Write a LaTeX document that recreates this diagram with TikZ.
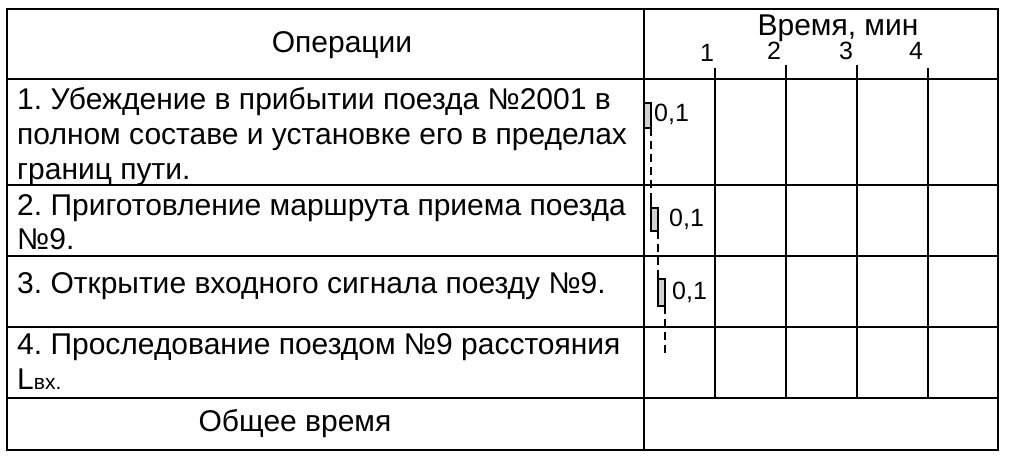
\documentclass[tikz,border=0pt]{standalone}
\usepackage{fontspec}
\setmainfont{Liberation Sans}
\frenchspacing
\begin{document}
\begin{tikzpicture}[x=1pt,y=-1pt,
  grid/.style={line width=1.3pt},
  tick/.style={line width=1.3pt},
  txt/.style={anchor=base west,inner sep=0pt,font=\fontsize{30}{34}\selectfont},
  ctxt/.style={anchor=base,inner sep=0pt,font=\fontsize{30}{34}\selectfont},
  num/.style={anchor=base,inner sep=0pt,font=\fontsize{25}{28}\selectfont},
  lab/.style={anchor=base west,inner sep=0pt,font=\fontsize{25}{28}\selectfont},
  bar/.style={draw=black,fill=black!18,line width=1.2pt},
  dashline/.style={line width=2.2pt,dash pattern=on 8pt off 5pt}
]
\useasboundingbox (0,0) rectangle (1024,456);
% table
\draw[grid] (7,9) rectangle (998,450);
\draw[grid] (644,9) -- (644,450);
\foreach \y in {79,185,256,327,398} \draw[grid] (7,\y) -- (998,\y);
% minute lines
\draw[tick] (715,68) -- (715,398);
\draw[tick] (786,65) -- (786,398);
\draw[tick] (857,65) -- (857,398);
\draw[tick] (928,68) -- (928,398);
% header texts
\node[ctxt] (ops) at (342,52) {Операции};
\node[ctxt] (time) at (838,35) {Время, мин};
\node[num] (m1) at (707,61) {1};
\node[num] (m2) at (774,59) {2};
\node[num] (m3) at (846,59) {3};
\node[num] (m4) at (916,59) {4};
% row texts
\node[txt] (r1a) at (17,109) {1. Убеждение в прибытии поезда №2001 в};
\node[txt] (r1b) at (17,144) {полном составе и установке его в пределах};
\node[txt] (r1c) at (17,179) {границ пути.};
\node[txt] (r2a) at (17,215) {2. Приготовление маршрута приема поезда};
\node[txt] (r2b) at (17,249) {№9.};
\node[txt] (r3a) at (17,293) {3. Открытие входного сигнала поезду №9.};
\node[txt] (r4a) at (17,354) {4. Проследование поездом №9 расстояния};
\node[txt] (r4b) at (17,389) {L{\fontsize{21}{24}\selectfont вх.}};
\node[ctxt] (tot) at (295,431) {Общее время};
% bars
\draw[bar] (644,103) rectangle (651,128);
\draw[dashline] (651,128) -- (651,202);
\draw[line width=2.2pt] (651,193) -- (651,208);
\draw[bar] (651,208) rectangle (658,231);
\draw[dashline] (658,231) -- (658,276);
\draw[line width=2.2pt] (658,274) -- (658,279);
\draw[bar] (658,279) rectangle (665,306);
\draw[dashline] (665,306) -- (665,355);
\node[lab] (l1) at (654,121) {0,1};
\node[lab] (l2) at (669,226) {0,1};
\node[lab] (l3) at (672,299) {0,1};
\end{tikzpicture}
\end{document}
